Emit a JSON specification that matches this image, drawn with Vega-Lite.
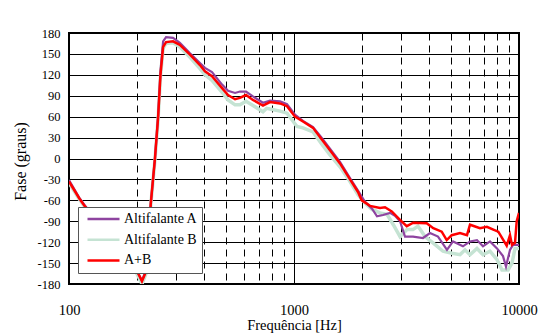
{
  "$schema": "https://vega.github.io/schema/vega-lite/v6.json",
  "width": 450,
  "height": 251,
  "autosize": {"type": "none"},
  "padding": {"left": 69, "top": 33, "right": 25, "bottom": 50},
  "background": "white",
  "datasets": {
    "AB": [
      {"f":100,"fase":-33},{"f":111,"fase":-57},{"f":118,"fase":-69},{"f":137,"fase":-92},{"f":160,"fase":-118},{"f":183,"fase":-142},{"f":201,"fase":-162},{"f":211,"fase":-176},{"f":220,"fase":-162},{"f":231,"fase":-64},{"f":241,"fase":0},{"f":249,"fase":60},{"f":255,"fase":120},{"f":262,"fase":160},{"f":270,"fase":167},{"f":290,"fase":168},{"f":311,"fase":163},{"f":345,"fase":149},{"f":382,"fase":134},{"f":402,"fase":125},{"f":432,"fase":118},{"f":479,"fase":101},{"f":509,"fase":91},{"f":547,"fase":85},{"f":575,"fase":87},{"f":612,"fase":91},{"f":657,"fase":84},{"f":728,"fase":76},{"f":782,"fase":81},{"f":867,"fase":79},{"f":931,"fase":75},{"f":1010,"fase":60},{"f":1096,"fase":53},{"f":1215,"fase":44},{"f":1332,"fase":27},{"f":1445,"fase":12},{"f":1601,"fase":-7},{"f":1774,"fase":-30},{"f":1925,"fase":-48},{"f":2000,"fase":-60},{"f":2177,"fase":-68},{"f":2411,"fase":-71},{"f":2538,"fase":-70},{"f":2719,"fase":-76},{"f":2959,"fase":-88},{"f":3170,"fase":-97},{"f":3390,"fase":-92},{"f":3889,"fase":-93},{"f":4160,"fase":-100},{"f":4534,"fase":-105},{"f":4773,"fase":-117},{"f":5022,"fase":-110},{"f":5466,"fase":-107},{"f":5873,"fase":-110},{"f":6057,"fase":-95},{"f":6707,"fase":-100},{"f":7200,"fase":-98},{"f":7688,"fase":-102},{"f":8091,"fase":-105},{"f":8818,"fase":-125},{"f":9120,"fase":-110},{"f":9309,"fase":-124},{"f":9600,"fase":-121},{"f":9768,"fase":-90},{"f":10000,"fase":-78}
    ],
    "A": [
      {"f":100,"fase":-31},{"f":111,"fase":-56},{"f":118,"fase":-68},{"f":137,"fase":-91},{"f":160,"fase":-117},{"f":183,"fase":-141},{"f":201,"fase":-162},{"f":211,"fase":-175},{"f":220,"fase":-160},{"f":231,"fase":-64},{"f":241,"fase":0},{"f":249,"fase":62},{"f":255,"fase":125},{"f":262,"fase":168},{"f":270,"fase":174},{"f":290,"fase":173},{"f":311,"fase":166},{"f":345,"fase":151},{"f":382,"fase":137},{"f":402,"fase":130},{"f":432,"fase":124},{"f":479,"fase":106},{"f":509,"fase":97},{"f":547,"fase":94},{"f":575,"fase":96},{"f":612,"fase":96},{"f":657,"fase":89},{"f":728,"fase":80},{"f":782,"fase":83},{"f":867,"fase":82},{"f":931,"fase":78},{"f":1010,"fase":63},{"f":1096,"fase":54},{"f":1215,"fase":45},{"f":1332,"fase":29},{"f":1445,"fase":14},{"f":1601,"fase":-5},{"f":1774,"fase":-28},{"f":1925,"fase":-46},{"f":2069,"fase":-62},{"f":2222,"fase":-72},{"f":2338,"fase":-83},{"f":2486,"fase":-81},{"f":2671,"fase":-78},{"f":2811,"fase":-82},{"f":2959,"fase":-90},{"f":3114,"fase":-112},{"f":3380,"fase":-112},{"f":3744,"fase":-114},{"f":4023,"fase":-107},{"f":4365,"fase":-112},{"f":4786,"fase":-131},{"f":5089,"fase":-119},{"f":5636,"fase":-126},{"f":6057,"fase":-119},{"f":6505,"fase":-117},{"f":6918,"fase":-126},{"f":7431,"fase":-119},{"f":7984,"fase":-129},{"f":8490,"fase":-140},{"f":8755,"fase":-155},{"f":9120,"fase":-131},{"f":9404,"fase":-124},{"f":9797,"fase":-124},{"f":10000,"fase":-124}
    ],
    "B": [
      {"f":100,"fase":-35},{"f":111,"fase":-58},{"f":118,"fase":-70},{"f":137,"fase":-93},{"f":160,"fase":-120},{"f":183,"fase":-145},{"f":201,"fase":-166},{"f":211,"fase":-180},{"f":220,"fase":-165},{"f":231,"fase":-66},{"f":241,"fase":-2},{"f":249,"fase":58},{"f":255,"fase":118},{"f":262,"fase":158},{"f":270,"fase":165},{"f":290,"fase":166},{"f":311,"fase":160},{"f":345,"fase":145},{"f":382,"fase":129},{"f":402,"fase":120},{"f":432,"fase":112},{"f":479,"fase":95},{"f":509,"fase":84},{"f":547,"fase":77},{"f":575,"fase":77},{"f":612,"fase":82},{"f":657,"fase":76},{"f":728,"fase":67},{"f":756,"fase":72},{"f":782,"fase":71},{"f":867,"fase":68},{"f":931,"fase":65},{"f":1031,"fase":46},{"f":1096,"fase":44},{"f":1215,"fase":38},{"f":1332,"fase":20},{"f":1445,"fase":5},{"f":1601,"fase":-12},{"f":1774,"fase":-33},{"f":1925,"fase":-52},{"f":2069,"fase":-64},{"f":2222,"fase":-73},{"f":2411,"fase":-78},{"f":2590,"fase":-80},{"f":2763,"fase":-95},{"f":2959,"fase":-112},{"f":3179,"fase":-102},{"f":3380,"fase":-102},{"f":3556,"fase":-97},{"f":3822,"fase":-112},{"f":4147,"fase":-121},{"f":4594,"fase":-133},{"f":5038,"fase":-136},{"f":5466,"fase":-138},{"f":5754,"fase":-131},{"f":6057,"fase":-138},{"f":6505,"fase":-129},{"f":6918,"fase":-138},{"f":7431,"fase":-133},{"f":7984,"fase":-145},{"f":8404,"fase":-160},{"f":8936,"fase":-160},{"f":9309,"fase":-150},{"f":9600,"fase":-129},{"f":10000,"fase":-129}
    ]
  },
  "encoding": {
    "x": {
      "field": "f", "type": "quantitative",
      "scale": {"type": "log", "domain": [100, 10000], "nice": false},
      "axis": {
        "values": [100,200,300,400,500,600,700,800,900,1000,2000,3000,4000,5000,6000,7000,8000,9000,10000],
        "labelExpr": "indexof([100,1000,10000], datum.value) >= 0 ? '' + datum.value : ''",
        "grid": true, "gridColor": "#000", "gridOpacity": 1, "gridWidth": 1,
        "gridDash": {"condition": {"test": "indexof([100,1000,10000], datum.value) >= 0", "value": []}, "value": [7, 5]},
        "ticks": false, "tickSize": 0, "domain": false,
        "labelFlush": false, "labelOverlap": false,
        "labelFont": "'Liberation Serif', serif", "labelFontSize": 14.5, "labelColor": "#000",
        "labelPadding": 30, "labelBaseline": "alphabetic",
        "title": "Frequência [Hz]", "titleFont": "'Liberation Serif', serif", "titleFontSize": 14.5,
        "titleFontWeight": "normal", "titleColor": "#000", "titleBaseline": "alphabetic", "titleY": 45
      }
    },
    "y": {
      "field": "fase", "type": "quantitative",
      "scale": {"domain": [-180, 180], "nice": false},
      "axis": {
        "values": [-180,-150,-120,-90,-60,-30,0,30,60,90,120,150,180],
        "labelExpr": "'' + datum.value",
        "grid": true, "gridColor": "#000", "gridOpacity": 1, "gridWidth": 1,
        "ticks": false, "tickSize": 0, "domain": false,
        "labelFlush": false, "labelOverlap": false, "labelPadding": 9,
        "labelFont": "'Liberation Serif', serif", "labelFontSize": 12.5, "labelColor": "#000",
        "title": "Fase (graus)", "titleFont": "'Liberation Serif', serif", "titleFontSize": 16,
        "titleFontWeight": "normal", "titleColor": "#000",
        "titleX": -44, "titleY": 128, "titleAngle": 270, "titleAlign": "center", "titleBaseline": "alphabetic"
      }
    }
  },
  "layer": [
    {
      "data": {"name": "B"},
      "mark": {"type": "line", "strokeWidth": 3.5, "clip": true},
      "encoding": {
        "color": {
          "datum": "Altifalante B", "type": "nominal",
          "scale": {"domain": ["Altifalante A", "Altifalante B", "A+B"], "range": ["#8e44a0", "#c5e3d3", "#ff0000"]},
          "legend": {
            "orient": "none", "legendX": 9, "legendY": 174, "title": null,
            "symbolType": "stroke", "symbolSize": 1024, "symbolStrokeWidth": 2.5, "clipHeight": 16,
            "symbolOffset": 4, "labelOffset": 3, "rowPadding": 4.7, "padding": 4,
            "labelFont": "'Liberation Serif', serif", "labelFontSize": 14, "labelColor": "#000",
            "strokeColor": "#555", "fillColor": "white"
          }
        }
      }
    },
    {
      "data": {"name": "A"},
      "mark": {"type": "line", "strokeWidth": 2.2, "clip": true},
      "encoding": {"color": {"datum": "Altifalante A", "type": "nominal"}}
    },
    {
      "data": {"name": "AB"},
      "mark": {"type": "line", "strokeWidth": 2.5, "clip": true},
      "encoding": {"color": {"datum": "A+B", "type": "nominal"}}
    }
  ],
  "config": {
    "view": {"stroke": "#000", "strokeWidth": 2},
    "font": "'Liberation Serif', serif"
  }
}
